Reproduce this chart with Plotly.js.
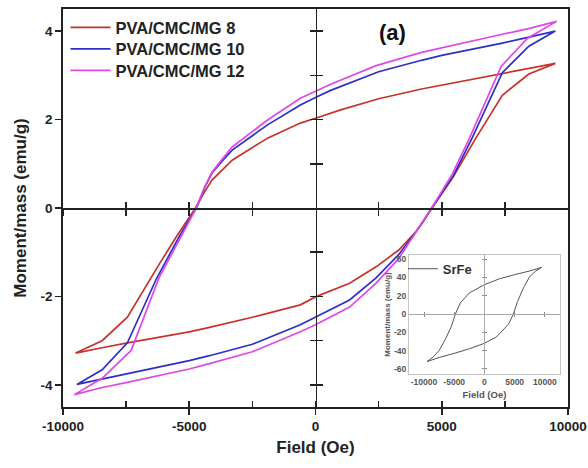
<!DOCTYPE html>
<html>
<head>
<meta charset="utf-8">
<script src="https://cdn.plot.ly/plotly-3.0.1.min.js"></script>
<style>
  html, body { margin: 0; padding: 0; background: #fff; }
  #chart { width: 588px; height: 468px; }
</style>
</head>
<body>
<div id="chart"></div>
<script>
// Hysteresis loops: field (Oe) vs moment/mass (emu/g)
// Each loop = descending branch (from +H max) followed by ascending branch.

// PVA/CMC/MG 8
const mg8DescField  = [9500, 8400, 7400, 5000, 4200, 2500, 1000, 0, -600, -1900, -3300, -4100, -4400, -4750, -5500, -6200, -7450, -8450, -9500];
const mg8DescMoment = [3.27, 3.15, 3.05, 2.79, 2.69, 2.47, 2.22, 2.03, 1.92, 1.58, 1.08, 0.63, 0.36, 0.0, -0.64, -1.28, -2.47, -3.00, -3.28];
const mg8AscField   = [-9500, -8450, -7450, -5000, -4200, -2500, -600, 0, 1350, 2400, 3300, 4000, 4600, 5000, 5450, 6350, 7400, 8450, 9500];
const mg8AscMoment  = [-3.28, -3.16, -3.05, -2.80, -2.70, -2.47, -2.19, -2.01, -1.70, -1.33, -0.95, -0.52, 0.0, 0.32, 0.70, 1.58, 2.55, 3.03, 3.27];

// PVA/CMC/MG 10
const mg10DescField  = [9500, 8400, 7400, 5000, 4200, 2500, 600, 0, -600, -1900, -3300, -3700, -4100, -4400, -4720, -5400, -6300, -7450, -8450, -9450];
const mg10DescMoment = [4.00, 3.86, 3.73, 3.45, 3.34, 3.08, 2.66, 2.50, 2.33, 1.88, 1.31, 1.06, 0.79, 0.45, 0.0, -0.65, -1.60, -3.05, -3.66, -3.99];
const mg10AscField   = [-9450, -8450, -7500, -5000, -4200, -2500, -600, 0, 1350, 2400, 3300, 3900, 4300, 4600, 5450, 6200, 7400, 8450, 9500];
const mg10AscMoment  = [-3.99, -3.87, -3.75, -3.45, -3.34, -3.08, -2.64, -2.47, -2.08, -1.58, -1.05, -0.60, -0.28, 0.0, 0.72, 1.58, 3.06, 3.66, 4.00];

// PVA/CMC/MG 12
const mg12DescField  = [9550, 8400, 7400, 5300, 4200, 2400, 600, 0, -600, -1900, -3300, -3700, -4100, -4400, -4720, -5300, -6200, -7300, -8450, -9550];
const mg12DescMoment = [4.22, 4.05, 3.93, 3.66, 3.52, 3.22, 2.80, 2.64, 2.48, 1.99, 1.38, 1.10, 0.81, 0.46, 0.0, -0.62, -1.58, -3.22, -3.85, -4.22];
const mg12AscField   = [-9550, -8450, -7500, -5000, -4200, -2500, -600, 0, 1350, 2400, 3300, 3850, 4300, 4600, 5400, 6100, 7350, 8400, 9550];
const mg12AscMoment  = [-4.22, -4.06, -3.95, -3.64, -3.52, -3.25, -2.80, -2.64, -2.24, -1.70, -1.14, -0.66, -0.28, 0.0, 0.75, 1.58, 3.20, 3.84, 4.22];

// SrFe reference loop (inset)
const srfeDescField  = [9500, 7500, 5000, 2500, 0, -2500, -4000, -4800, -5500, -6500, -7500, -8500, -9500];
const srfeDescMoment = [51, 47, 43, 38.5, 32, 23, 12, 0, -14, -28, -40, -47, -52];
const srfeAscField   = [-9500, -7500, -5000, -2500, 0, 2000, 4000, 4800, 5500, 6500, 7500, 8500, 9500];
const srfeAscMoment  = [-52, -47.5, -43, -38, -32, -25, -11, 0, 14, 29, 41, 47, 51];

const seriesNames = ['PVA/CMC/MG 8', 'PVA/CMC/MG 10', 'PVA/CMC/MG 12'];
const seriesColors = ['#c8322c', '#2e2ec8', '#e048e6'];

// Tick labels
const mainXTicks = [-10000, -5000, 0, 5000, 10000];
const mainXTickText = ['-10000', '-5000', '0', '5000', '10000'];
const mainYTicks = [-4, -2, 0, 2, 4];
const mainYTickText = ['-4', '-2', '0', '2', '4'];
const insetXTicks = [-10000, -5000, 0, 5000, 10000];
const insetXTickText = ['-10000', '-5000', '0', '5000', '10000'];
const insetYTicks = [-60, -40, -20, 0, 20, 40, 60];
const insetYTickText = ['-60', '-40', '-20', '0', '20', '40', '60'];

const loop = (df, dm, af, am) => ({ x: df.concat(af), y: dm.concat(am) });

const loops = [
  loop(mg8DescField, mg8DescMoment, mg8AscField, mg8AscMoment),
  loop(mg10DescField, mg10DescMoment, mg10AscField, mg10AscMoment),
  loop(mg12DescField, mg12DescMoment, mg12AscField, mg12AscMoment)
];

// one legend box per series so the rows can sit close together
const legendIds = ['legend', 'legend3', 'legend4'];

const traces = loops.map((l, i) => ({
  type: 'scatter', mode: 'lines',
  x: l.x, y: l.y,
  name: seriesNames[i],
  line: { color: seriesColors[i], width: 1.7 },
  xaxis: 'x', yaxis: 'y', legend: legendIds[i]
}));

const srfe = loop(srfeDescField, srfeDescMoment, srfeAscField, srfeAscMoment);
traces.push({
  type: 'scatter', mode: 'lines',
  x: srfe.x, y: srfe.y,
  name: 'SrFe',
  line: { color: '#555', width: 1 },
  xaxis: 'x5', yaxis: 'y5', legend: 'legend2'
});

// Empty hooks so that the decorative overlay axes get a subplot and are drawn
[['x2', 'y'], ['x3', 'y'], ['x4', 'y'], ['x', 'y2'], ['x', 'y3'],
 ['x6', 'y5'], ['x7', 'y5'], ['x5', 'y6'], ['x5', 'y7']].forEach(([xa, ya]) => {
  traces.push({ type: 'scatter', mode: 'lines', x: [], y: [], xaxis: xa, yaxis: ya, showlegend: false, hoverinfo: 'skip' });
});

const FONT = 'Liberation Sans, Arial, sans-serif';
const ink = '#222';
const boldTick = { family: FONT, size: 13.5, color: ink, weight: 'bold' };

// Inset placement in paper fractions
const insetX = [0.685, 0.984];
const insetY = [0.083, 0.382];
const XR = [-10000, 10000], YR = [-4.5, 4.5];
const IXR = [-12500, 12500], IYR = [-65.5, 64.5];
const insetZeroY = insetY[0] + (0 - IYR[0]) / (IYR[1] - IYR[0]) * (insetY[1] - insetY[0]);
const insetZeroX = insetX[0] + (0 - IXR[0]) / (IXR[1] - IXR[0]) * (insetX[1] - insetX[0]);

function tickAxis(base, opts) {
  return Object.assign({
    overlaying: base, showgrid: false, zeroline: false, showticklabels: false,
    tickcolor: ink, tickwidth: 1.6, tickmode: 'array'
  }, opts);
}

function seriesLegend(y) {
  return {
    x: 0.005, y: y, xanchor: 'left', yanchor: 'top',
    bgcolor: 'rgba(0,0,0,0)', borderwidth: 0, itemwidth: 40,
    font: { family: FONT, size: 16.5, color: ink, weight: 'bold' }
  };
}

const layout = {
  width: 588, height: 468,
  margin: { l: 63, r: 20, t: 9, b: 61 },
  paper_bgcolor: '#fff', plot_bgcolor: 'rgba(0,0,0,0)',
  showlegend: true,
  font: { family: FONT, color: ink },
  xaxis: {
    domain: [0, 1], range: XR, anchor: 'y',
    showline: true, mirror: true, linecolor: ink, linewidth: 1.8,
    tickmode: 'array', tickvals: mainXTicks, ticktext: mainXTickText,
    ticks: 'outside', ticklen: 6, tickwidth: 1.6, tickcolor: ink,
    tickfont: boldTick,
    showgrid: false, zeroline: false,
    title: { text: 'Field (Oe)', font: { family: FONT, size: 17, color: ink, weight: 'bold' }, standoff: 8 }
  },
  // bottom axis: inward half of the major ticks and the minor ticks
  xaxis2: tickAxis('x', { anchor: 'y', range: XR, tickvals: [-10000, -7500, -5000, -2500, 0, 2500, 5000, 7500, 10000], ticks: 'inside', ticklen: 6 }),
  // horizontal center axis through y = 0
  xaxis3: tickAxis('x', { anchor: 'free', position: 0.5, range: XR, showline: true, linecolor: ink, linewidth: 1.6,
    tickvals: [-10000, -7500, -5000, -2500, 2500, 5000, 7500], ticks: 'outside', ticklen: 6 }),
  xaxis4: tickAxis('x', { anchor: 'free', position: 0.5, range: XR,
    tickvals: [-10000, -7500, -5000, -2500, 2500, 5000, 7500], ticks: 'inside', ticklen: 6 }),
  yaxis: {
    domain: [0, 1], range: YR, anchor: 'x',
    showline: true, mirror: true, linecolor: ink, linewidth: 1.8,
    tickmode: 'array', tickvals: mainYTicks, ticktext: mainYTickText,
    ticks: 'outside', ticklen: 6, tickwidth: 1.6, tickcolor: ink,
    tickfont: boldTick,
    showgrid: false, zeroline: false,
    title: { text: 'Moment/mass (emu/g)', font: { family: FONT, size: 17, color: ink, weight: 'bold' }, standoff: 9 }
  },
  // vertical center axis through x = 0
  yaxis2: tickAxis('y', { anchor: 'free', position: 0.5, range: YR, showline: true, linecolor: ink, linewidth: 1.6,
    tickvals: [-4, -3, -2, -1, 1, 2, 3, 4], ticks: 'outside', ticklen: 6 }),
  yaxis3: tickAxis('y', { anchor: 'free', position: 0.5, range: YR,
    tickvals: [-4, -3, -2, -1, 1, 2, 3, 4], ticks: 'inside', ticklen: 6 }),

  // Inset axes
  xaxis5: {
    domain: insetX, anchor: 'y5', range: IXR,
    showline: true, mirror: true, linecolor: '#c4c4c4', linewidth: 1,
    tickmode: 'array', tickvals: insetXTicks, ticktext: insetXTickText,
    ticks: '', tickfont: { family: FONT, size: 8.5, color: '#555', weight: 'bold' },
    showgrid: false, zeroline: false,
    title: { text: 'Field (Oe)', font: { family: FONT, size: 9.5, color: '#555', weight: 'bold' }, standoff: 5 }
  },
  yaxis5: {
    domain: insetY, anchor: 'x5', range: IYR,
    showline: true, mirror: true, linecolor: '#c4c4c4', linewidth: 1,
    tickmode: 'array', tickvals: insetYTicks, ticktext: insetYTickText,
    ticks: '', tickfont: { family: FONT, size: 8.5, color: '#555', weight: 'bold' },
    showgrid: false, zeroline: false,
    title: { text: 'Moment/mass (emu/g)', font: { family: FONT, size: 8, color: '#555', weight: 'bold' }, standoff: 2 }
  },
  xaxis6: tickAxis('x5', { anchor: 'free', position: insetZeroY, range: IXR, showline: true, linecolor: '#aaa', linewidth: 1,
    tickvals: [-10000, -5000, 5000, 10000], ticks: 'outside', ticklen: 2, tickwidth: 1, tickcolor: '#888' }),
  xaxis7: tickAxis('x5', { anchor: 'free', position: insetZeroY, range: IXR,
    tickvals: [-10000, -5000, 5000, 10000], ticks: 'inside', ticklen: 2, tickwidth: 1, tickcolor: '#888' }),
  yaxis6: tickAxis('y5', { anchor: 'free', position: insetZeroX, range: IYR, showline: true, linecolor: '#aaa', linewidth: 1,
    tickvals: [-60, -40, -20, 20, 40, 60], ticks: 'outside', ticklen: 2, tickwidth: 1, tickcolor: '#888' }),
  yaxis7: tickAxis('y5', { anchor: 'free', position: insetZeroX, range: IYR,
    tickvals: [-60, -40, -20, 20, 40, 60], ticks: 'inside', ticklen: 2, tickwidth: 1, tickcolor: '#888' }),

  legend: seriesLegend(0.997),
  legend3: seriesLegend(0.943),
  legend4: seriesLegend(0.889),
  legend2: {
    x: 0.673, y: 0.385, xanchor: 'left', yanchor: 'top',
    bgcolor: 'rgba(0,0,0,0)', borderwidth: 0,
    font: { family: FONT, size: 13, color: '#333', weight: 'bold' }
  },
  annotations: [{
    text: '(a)', xref: 'paper', yref: 'paper', x: 0.652, y: 0.94,
    xanchor: 'center', yanchor: 'middle', showarrow: false,
    font: { family: FONT, size: 22, color: '#111', weight: 'bold' }
  }]
};

Plotly.newPlot('chart', traces, layout, { staticPlot: true, displayModeBar: false });
</script>
</body>
</html>
